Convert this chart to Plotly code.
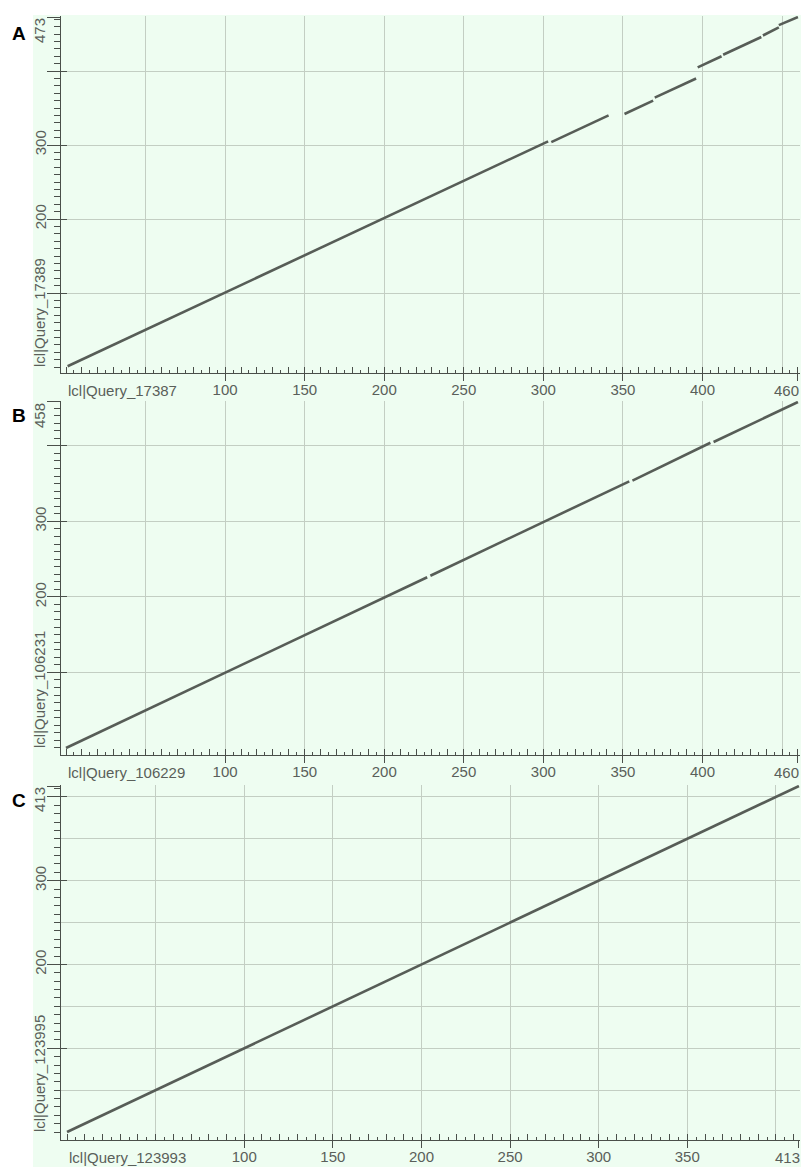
import plotly.graph_objects as go

W, H = 801, 1167

# ---------------- data ----------------
# Panel A
a_x_title = "lcl|Query_17387"
a_y_title = "lcl|Query_17389"
a_x_len = 460
a_y_len = 473
a_seg_x0 = [1, 305, 351, 370, 397, 413, 438, 448]
a_seg_x1 = [303, 341, 369, 396, 412, 437, 448, 460]
a_seg_y0 = [1, 304, 342, 364, 405, 422, 448, 462]
a_seg_y1 = [305, 340, 360, 390, 420, 446, 459, 473]
a_x_labels = [100, 150, 200, 250, 300, 350, 400]
a_y_labels = [200, 300]

# Panel B
b_x_title = "lcl|Query_106229"
b_y_title = "lcl|Query_106231"
b_x_len = 460
b_y_len = 458
b_seg_x0 = [0, 229, 356, 407]
b_seg_x1 = [227, 354, 405, 460]
b_seg_y0 = [0, 228, 354, 405]
b_seg_y1 = [226, 353, 404, 458]
b_x_labels = [100, 150, 200, 250, 300, 350, 400]
b_y_labels = [200, 300]

# Panel C
c_x_title = "lcl|Query_123993"
c_y_title = "lcl|Query_123995"
c_x_len = 413
c_y_len = 413
c_seg_x0 = [0]
c_seg_x1 = [413]
c_seg_y0 = [0]
c_seg_y1 = [413]
c_x_labels = [100, 150, 200, 250, 300, 350]
c_y_labels = [200, 300]

panel_letters = ["A", "B", "C"]

# ---------------- styles ----------------
BG = "#eefdf1"
GRID = "#c3cec3"
AX = "#4a4f4a"
LINE = "#575d57"
TXT = "#5a5f5a"
FONT = "Liberation Sans"
FS = 15

panels = [
    dict(letter=panel_letters[0], xt=a_x_title, yt=a_y_title, xl=a_x_len, yl=a_y_len,
         sx0=a_seg_x0, sx1=a_seg_x1, sy0=a_seg_y0, sy1=a_seg_y1,
         xlab=a_x_labels, ylab=a_y_labels,
         xr=[-3.14, 461.3], yr=[-8.1, 474.4], ypx=(16, 373), ygrid=100, letter_y=21),
    dict(letter=panel_letters[1], xt=b_x_title, yt=b_y_title, xl=b_x_len, yl=b_y_len,
         sx0=b_seg_x0, sx1=b_seg_x1, sy0=b_seg_y0, sy1=b_seg_y1,
         xlab=b_x_labels, ylab=b_y_labels,
         xr=[-3.14, 461.3], yr=[-9.3, 459.3], ypx=(401, 755), ygrid=100, letter_y=403),
    dict(letter=panel_letters[2], xt=c_x_title, yt=c_y_title, xl=c_x_len, yl=c_y_len,
         sx0=c_seg_x0, sx1=c_seg_x1, sy0=c_seg_y0, sy1=c_seg_y1,
         xlab=c_x_labels, ylab=c_y_labels,
         xr=[-3.4, 413.6], yr=[-9.5, 414.2], ypx=(785, 1140), ygrid=50, letter_y=788),
]

xdom = [61 / W, 800 / W]

fig = go.Figure()
layout = {}
annotations = []


def nm(letter, k):
    return letter if k == 1 else f"{letter}{k}"


for i, p in enumerate(panels):
    k1, k2, k3 = 3 * i + 1, 3 * i + 2, 3 * i + 3
    x1, x2, x3 = nm("x", k1), nm("x", k2), nm("x", k3)
    y1, y2, y3 = nm("y", k1), nm("y", k2), nm("y", k3)
    ydom = [1 - p["ypx"][1] / H, 1 - p["ypx"][0] / H]

    # line segments
    xs, ys = [], []
    for a, b, c, d in zip(p["sx0"], p["sx1"], p["sy0"], p["sy1"]):
        xs += [a, b, None]
        ys += [c, d, None]
    fig.add_trace(go.Scatter(x=xs, y=ys, mode="lines", line=dict(color=LINE, width=2.6),
                             xaxis=x1, yaxis=y1, showlegend=False, hoverinfo="skip"))
    fig.add_trace(go.Scatter(x=[], y=[], xaxis=x2, yaxis=y2, showlegend=False, hoverinfo="skip"))
    fig.add_trace(go.Scatter(x=[], y=[], xaxis=x3, yaxis=y3, showlegend=False, hoverinfo="skip"))

    xgrid = list(range(50, p["xl"], 50))
    ymaj = list(range(100, p["yl"], 100))
    ymin_grid = [v for v in range(50, p["yl"], 50) if v % 100 != 0] if p["ygrid"] == 50 else []

    # base axes: grid + axis line
    layout["xaxis" if k1 == 1 else f"xaxis{k1}"] = dict(
        domain=xdom, range=p["xr"], anchor=y1, tickmode="array", tickvals=xgrid,
        showgrid=True, gridcolor=GRID, gridwidth=1, ticks="", showticklabels=False,
        showline=True, linecolor=AX, linewidth=1, zeroline=False, fixedrange=True)
    layout["yaxis" if k1 == 1 else f"yaxis{k1}"] = dict(
        domain=ydom, range=p["yr"], anchor=x1, tickmode="array", tickvals=ymaj,
        showgrid=True, gridcolor=GRID, gridwidth=1, ticks="inside", ticklen=6,
        tickcolor=AX, showticklabels=False,
        minor=dict(tickmode="array", tickvals=ymin_grid, showgrid=True, gridcolor=GRID, ticks=""),
        showline=True, linecolor=AX, linewidth=1, zeroline=False, fixedrange=True)

    # small tick axes
    layout[f"xaxis{k2}"] = dict(
        overlaying=x1, anchor=y1, range=p["xr"], tickmode="linear", tick0=0, dtick=10,
        ticks="inside", ticklen=6, tickcolor=AX, showgrid=False, showticklabels=False,
        minor=dict(tick0=0, dtick=5, ticks="inside", ticklen=3, tickcolor=AX, showgrid=False),
        showline=False, zeroline=False, fixedrange=True)
    layout[f"yaxis{k2}"] = dict(
        overlaying=y1, anchor=x1, range=p["yr"], tickmode="linear", tick0=0, dtick=10,
        ticks="outside", ticklen=6, tickcolor=AX, showgrid=False, showticklabels=False,
        showline=False, zeroline=False, fixedrange=True)

    f_lab = dict(family=FONT, size=FS, color=TXT)
    # labelled major-tick axes
    xtv = p["xlab"] + [p["xl"]]
    xtt = [str(v) for v in p["xlab"]] + [""]
    layout[f"xaxis{k3}"] = dict(
        overlaying=x1, anchor=y1, range=p["xr"], tickmode="array", tickvals=xtv, ticktext=xtt,
        ticks="outside", ticklen=7, tickcolor=AX, showgrid=False, showticklabels=True,
        ticklabelstandoff=-4,
        tickfont=f_lab, showline=False, zeroline=False, fixedrange=True)
    ytv = ymaj + [p["yl"]]
    ytt = [str(v) if v in p["ylab"] else "" for v in ymaj] + [""]
    layout[f"yaxis{k3}"] = dict(
        overlaying=y1, anchor=x1, range=p["yr"], tickmode="array", tickvals=ytv, ticktext=ytt,
        ticks="outside", ticklen=13, tickcolor=AX, showgrid=False, showticklabels=True,
        ticklabelstandoff=-5,
        tickangle=-90, tickfont=f_lab,
        showline=False, zeroline=False, fixedrange=True)

    # x title and end label
    annotations.append(dict(text=p["xt"], xref=x1, x=0, xanchor="left",
                            yref=f"{y1} domain", y=0, yanchor="top", yshift=-7,
                            showarrow=False, font=f_lab))
    annotations.append(dict(text=str(p["xl"]), xref=x1, x=p["xl"], xanchor="right", xshift=3,
                            yref=f"{y1} domain", y=0, yanchor="top", yshift=-7,
                            showarrow=False, font=f_lab))
    # y title and end label
    annotations.append(dict(text=p["yt"], xref=f"{x1} domain", x=0, xanchor="right", xshift=-11,
                            yref=y1, y=0, yanchor="bottom", yshift=-2, textangle=-90,
                            showarrow=False, font=f_lab))
    annotations.append(dict(text=str(p["yl"]), xref=f"{x1} domain", x=0, xanchor="right", xshift=-11,
                            yref=y1, y=p["yl"], yanchor="top", yshift=1, textangle=-90,
                            showarrow=False, font=f_lab))
    # panel letter
    annotations.append(dict(text=f"<b>{p['letter']}</b>", xref="paper", x=10 / W, xanchor="left",
                            yref="paper", y=1 - p["letter_y"] / H, yanchor="top",
                            showarrow=False, font=dict(family=FONT, size=19, color="#000000")))

layout.update(
    width=W, height=H, autosize=False,
    margin=dict(l=0, r=0, t=0, b=0, pad=0),
    paper_bgcolor=BG, plot_bgcolor=BG,
    annotations=annotations,
    shapes=[
        dict(type="rect", xref="paper", yref="paper", x0=0, x1=33 / W, y0=0, y1=1,
             fillcolor="#ffffff", line=dict(width=0), layer="below"),
        dict(type="rect", xref="paper", yref="paper", x0=0, x1=1, y0=1 - 15 / H, y1=1,
             fillcolor="#ffffff", line=dict(width=0), layer="below"),
    ],
    showlegend=False,
)
fig.update_layout(layout)
fig.write_html("out.html", config={"displayModeBar": False},
               post_script="document.body.style.margin='0px';document.body.style.overflow='hidden';")
